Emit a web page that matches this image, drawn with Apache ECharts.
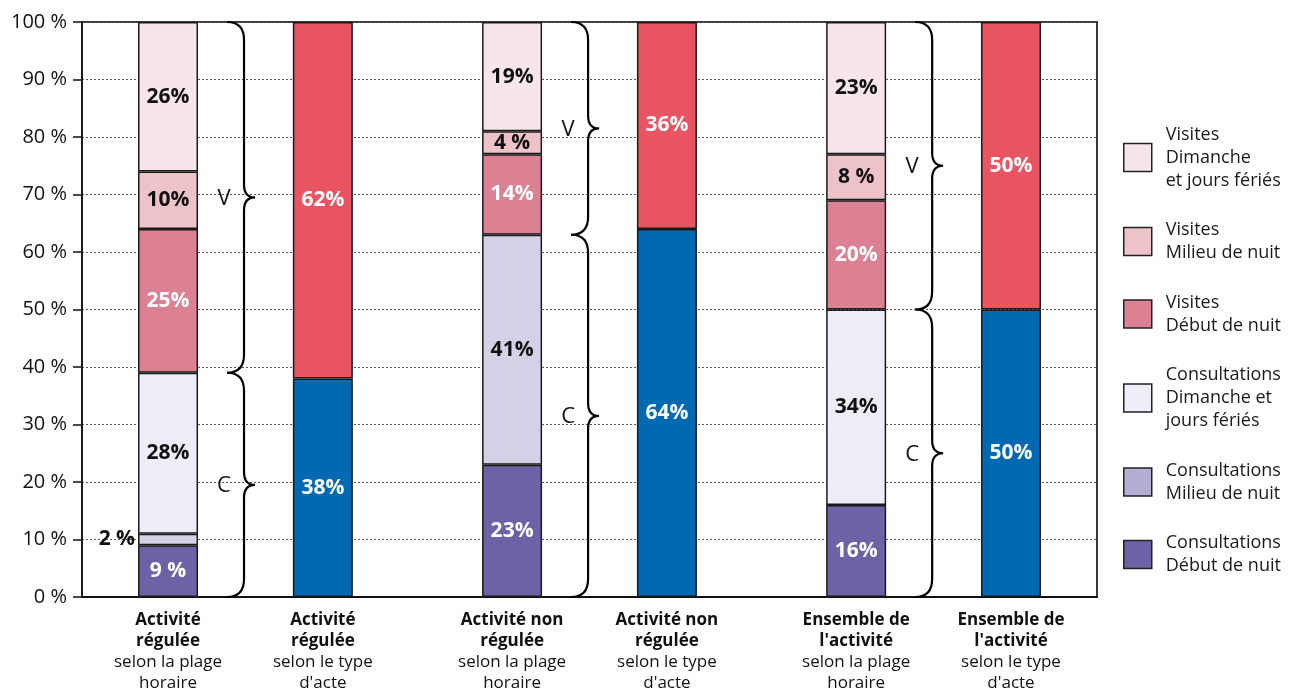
<!DOCTYPE html>
<html>
<head>
<meta charset="utf-8">
<script src="https://cdn.jsdelivr.net/npm/echarts@6/dist/echarts.min.js"></script>
<style>
  html, body { margin: 0; padding: 0; background: #fff; }
  #chart { width: 1294px; height: 688px; }
</style>
</head>
<body>
<div id="chart"></div>
<script>
// bar positions along the x axis (pairs: by time slot / by act type)
const xPos = [0.5, 1.4, 2.5, 3.4, 4.5, 5.4];
const boldLabels = ['Activité\nrégulée', 'Activité\nrégulée', 'Activité non\nrégulée', 'Activité non\nrégulée', "Ensemble de\nl'activité", "Ensemble de\nl'activité"];
const subLabels = ['selon la plage\nhoraire', "selon le type\nd'acte", 'selon la plage\nhoraire', "selon le type\nd'acte", 'selon la plage\nhoraire', "selon le type\nd'acte"];
const yTicks = [0, 10, 20, 30, 40, 50, 60, 70, 80, 90, 100];

// segment heights (%), null where the bar has no such segment
const cDebut    = [9, null, 23, null, 16, null];
const cMilieu   = [2, null, 40, null, null, null];
const cDimanche = [28, null, null, null, 34, null];
const vDebut    = [25, null, 14, null, 19, null];
const vMilieu   = [10, null, 4, null, 8, null];
const vDimanche = [26, null, 19, null, 23, null];
const consult   = [null, 38, null, 64, null, 50];
const visites   = [null, 62, null, 36, null, 50];

// printed labels
const cDebutLbl    = ['9 %', '', '23%', '', '16%', ''];
const cMilieuLbl   = ['2 %', '', '41%', '', '', ''];
const cDimancheLbl = ['28%', '', '', '', '34%', ''];
const vDebutLbl    = ['25%', '', '14%', '', '20%', ''];
const vMilieuLbl   = ['10%', '', '4 %', '', '8 %', ''];
const vDimancheLbl = ['26%', '', '19%', '', '23%', ''];
const consultLbl   = ['', '38%', '', '64%', '', '50%'];
const visitesLbl   = ['', '62%', '', '36%', '', '50%'];

const FONT = "'Open Sans', 'Noto Sans', sans-serif";

// data is [value, x] so that the stacked dimension is the value one
function barSeries(name, values, labels, color, labelColor) {
    return {
        name: name,
        type: 'bar',
        stack: 'all',
        barWidth: 60,
        encode: { x: 1, y: 0 },
        data: xPos.map((x, i) => {
            const item = { value: [values[i], x] };
            if (values[i] != null && values[i] < 3) {
                item.label = { position: 'left', distance: 3, color: '#111' };
            }
            return item;
        }),
        itemStyle: { color: color, borderColor: '#1a1a1a', borderWidth: 1.5 },
        label: {
            show: true,
            position: 'inside',
            color: labelColor,
            fontFamily: FONT,
            fontWeight: 'bold',
            fontSize: 21,
            formatter: p => labels[p.dataIndex]
        },
        emphasis: { disabled: true }
    };
}

// braces: V over visits, C over consultations, next to each "plage horaire" bar
const braceData = [];
const braceLetters = [];
[0, 2, 4].forEach(i => {
    const c = (cDebut[i] || 0) + (cMilieu[i] || 0) + (cDimanche[i] || 0);
    braceData.push([xPos[i], c, 100]);
    braceLetters.push('V');
    braceData.push([xPos[i], 0, c]);
    braceLetters.push('C');
});

function renderBrace(params, api) {
    const top = api.coord([api.value(0), api.value(2)]);
    const bot = api.coord([api.value(0), api.value(1)]);
    const cx = top[0];
    const L = cx + 59, S = cx + 76, T = cx + 87;
    const y0 = top[1], y1 = bot[1], ym = (y0 + y1) / 2;
    const r = 18, r2 = 13;
    const d = 'M' + L + ',' + y0 +
        ' Q' + S + ',' + y0 + ' ' + S + ',' + (y0 + r) +
        ' L' + S + ',' + (ym - r2) +
        ' Q' + S + ',' + ym + ' ' + T + ',' + ym +
        ' Q' + S + ',' + ym + ' ' + S + ',' + (ym + r2) +
        ' L' + S + ',' + (y1 - r) +
        ' Q' + S + ',' + y1 + ' ' + L + ',' + y1;
    return {
        type: 'group',
        children: [
            { type: 'path', shape: { pathData: d }, style: { stroke: '#000', lineWidth: 2.2, fill: null } },
            {
                type: 'text',
                style: {
                    text: braceLetters[params.dataIndex],
                    x: cx + 56, y: ym + 1,
                    align: 'center', verticalAlign: 'middle',
                    fill: '#111',
                    font: "22px 'Open Sans', sans-serif"
                }
            }
        ]
    };
}

function xLabel(value) {
    const i = xPos.findIndex(x => Math.abs(x - value) < 1e-6);
    if (i < 0) return '';
    const b = boldLabels[i].split('\n').map(s => '{b|' + s + '}');
    const n = subLabels[i].split('\n').map(s => '{n|' + s + '}');
    return b.concat(n).join('\n');
}

const chart = echarts.init(document.getElementById('chart'));
chart.setOption({
    animation: false,
    backgroundColor: '#fff',
    textStyle: { fontFamily: FONT },
    grid: {
        left: 82, right: 197, top: 22, bottom: 91,
        outerBoundsMode: 'none',
        show: true, borderColor: '#3a3a3a', borderWidth: 2
    },
    legend: {
        orient: 'vertical',
        left: 1118, top: 118,
        itemWidth: 28, itemHeight: 28, itemGap: 26.5,
        selectedMode: false,
        icon: 'rect',
        itemStyle: { borderColor: '#222', borderWidth: 1.5 },
        textStyle: { fontSize: 18, lineHeight: 23, color: '#1a1a1a', fontFamily: FONT, padding: [0, 0, 0, 9] },
        data: [
            { name: 'Visites\nDimanche\net jours fériés' },
            { name: 'Visites\nMilieu de nuit' },
            { name: 'Visites\nDébut de nuit' },
            { name: 'Consultations\nDimanche et\njours fériés' },
            { name: 'Consultations\nMilieu de nuit', itemStyle: { color: '#b4aed4' } },
            { name: 'Consultations\nDébut de nuit' }
        ]
    },
    xAxis: {
        type: 'value',
        min: 0, max: 5.9,
        axisLine: { show: true, lineStyle: { color: '#111', width: 2 } },
        axisTick: { show: false },
        splitLine: { show: false },
        axisLabel: {
            customValues: xPos,
            margin: 13,
            formatter: xLabel,
            color: '#111',
            rich: {
                b: { fontFamily: FONT, fontWeight: 'bold', fontSize: 17, lineHeight: 21, color: '#111' },
                n: { fontFamily: FONT, fontSize: 17, lineHeight: 21, color: '#111' }
            }
        }
    },
    yAxis: {
        type: 'value',
        min: 0, max: 100, interval: 10,
        axisLine: { show: true, lineStyle: { color: '#111', width: 1.5 } },
        axisTick: { show: true, length: 9, lineStyle: { color: '#111', width: 1.5 } },
        axisLabel: {
            margin: 15,
            fontSize: 20,
            color: '#111',
            fontFamily: FONT,
            formatter: v => yTicks.indexOf(v) >= 0 ? v + ' %' : ''
        },
        splitLine: { show: true, lineStyle: { color: '#555', width: 1, type: [2, 2] } }
    },
    series: [
        barSeries('Consultations\nDébut de nuit', cDebut, cDebutLbl, '#6c62a6', '#fff'),
        barSeries('Consultations\nMilieu de nuit', cMilieu, cMilieuLbl, '#d4d0e6', '#111'),
        barSeries('Consultations\nDimanche et\njours fériés', cDimanche, cDimancheLbl, '#eeedf7', '#111'),
        barSeries('Visites\nDébut de nuit', vDebut, vDebutLbl, '#dc8193', '#fff'),
        barSeries('Visites\nMilieu de nuit', vMilieu, vMilieuLbl, '#eec2c9', '#111'),
        barSeries('Visites\nDimanche\net jours fériés', vDimanche, vDimancheLbl, '#f7e6e9', '#111'),
        barSeries('Consultations', consult, consultLbl, '#0069b1', '#fff'),
        barSeries('Visites', visites, visitesLbl, '#e85462', '#fff'),
        {
            type: 'custom',
            renderItem: renderBrace,
            data: braceData,
            encode: { x: 0, y: [1, 2] },
            silent: true,
            z: 5
        }
    ]
});
</script>
</body>
</html>
